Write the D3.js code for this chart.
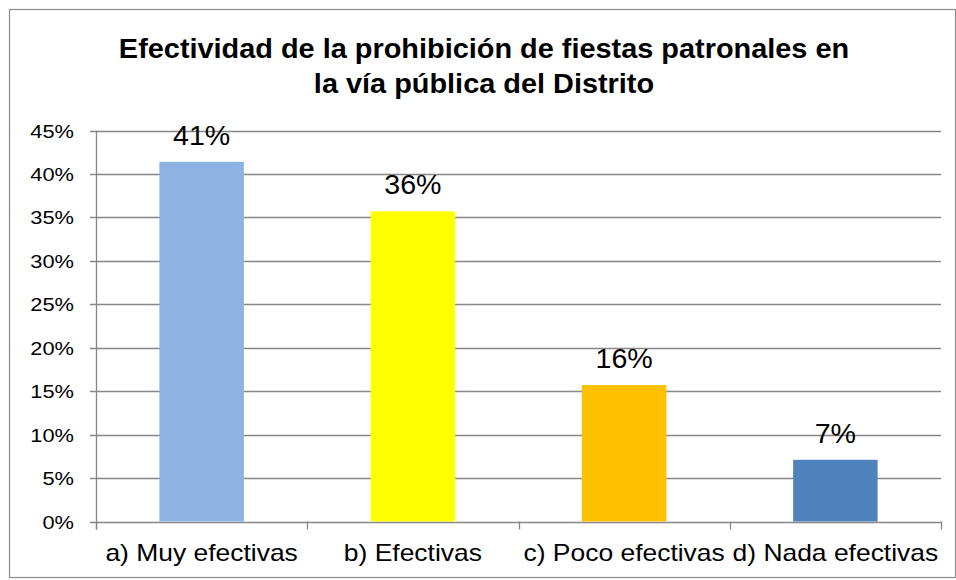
<!DOCTYPE html>
<html><head><meta charset="utf-8">
<script src="https://cdn.jsdelivr.net/npm/d3@7"></script>
<style>body{margin:0;background:#fff}svg{display:block}text{font-family:"Liberation Sans",Arial,sans-serif;fill:#000}</style>
</head><body>
<svg id="c" width="956" height="580"></svg>
<script>
const categories = ["a) Muy efectivas", "b) Efectivas", "c) Poco efectivas", "d) Nada efectivas"];
const values = [0.414, 0.357, 0.157, 0.071];
const colors = ["#8DB3E2", "#FFFF00", "#FFC000", "#4F81BD"];
const yTicks = [0, 0.05, 0.10, 0.15, 0.20, 0.25, 0.30, 0.35, 0.40, 0.45];
const titleLines = ["Efectividad de la prohibición de fiestas patronales en", "la vía pública del Distrito"];

const svg = d3.select("#c");
const grid = "#868686";
svg.append("rect").attr("x", 9.5).attr("y", 9.5).attr("width", 946).attr("height", 568)
  .attr("fill", "#fff").attr("stroke", "#8c8c8c").attr("stroke-width", 1.2);

const x = d3.scaleBand().domain(categories).range([96, 941]).paddingInner(0.6).paddingOuter(0.3);
const y = d3.scaleLinear().domain([0, 0.45]).range([521.5, 130.5]);
const fmt = d3.format(".0%");

// gridlines
svg.append("g").selectAll("line").data(yTicks).join("line")
  .attr("x1", 90).attr("x2", 941)
  .attr("y1", d => Math.round(y(d)) + 0.5).attr("y2", d => Math.round(y(d)) + 0.5)
  .attr("stroke", grid).attr("stroke-width", 1.3);

// y axis line
svg.append("line").attr("x1", 96.5).attr("x2", 96.5).attr("y1", y(0.45)).attr("y2", y(0) + 8)
  .attr("stroke", grid).attr("stroke-width", 1.3);

// x ticks at category boundaries
const bounds = categories.map(c => x(c) - x.step() * x.paddingInner() / 2).map((v, i) => i === 0 ? 96 : v);
bounds.push(941);
svg.append("g").selectAll("line").data(bounds).join("line")
  .attr("x1", d => Math.round(d) + 0.5).attr("x2", d => Math.round(d) + 0.5)
  .attr("y1", y(0)).attr("y2", y(0) + 8)
  .attr("stroke", grid).attr("stroke-width", 1.3);

// y tick labels
svg.append("g").selectAll("text").data(yTicks).join("text")
  .attr("transform", d => `translate(74,${y(d) + 7}) scale(1.18,1)`)
  .attr("text-anchor", "end").style("font-size", "18.5px")
  .text(d => fmt(d));

// bars
svg.append("g").selectAll("rect").data(values).join("rect")
  .attr("x", (d, i) => x(categories[i])).attr("width", x.bandwidth())
  .attr("y", d => y(d)).attr("height", d => y(0) - y(d))
  .attr("fill", (d, i) => colors[i]);

// data labels
svg.append("g").selectAll("text").data(values).join("text")
  .attr("transform", (d, i) => `translate(${x(categories[i]) + x.bandwidth() / 2},${y(d) - 17}) scale(1.06,1)`)
  .attr("text-anchor", "middle").style("font-size", "27px")
  .text(d => fmt(d));

// category labels
svg.append("g").selectAll("text").data(categories).join("text")
  .attr("transform", d => `translate(${x(d) + x.bandwidth() / 2},561) scale(1.15,1)`)
  .attr("text-anchor", "middle").style("font-size", "23px")
  .text(d => d);

// title
svg.append("g").selectAll("text").data(titleLines).join("text")
  .attr("transform", (d, i) => `translate(484,${58 + i * 35}) scale(1.07,1)`)
  .attr("text-anchor", "middle").style("font-size", "27px").style("font-weight", "bold")
  .text(d => d);
</script>
</body></html>
